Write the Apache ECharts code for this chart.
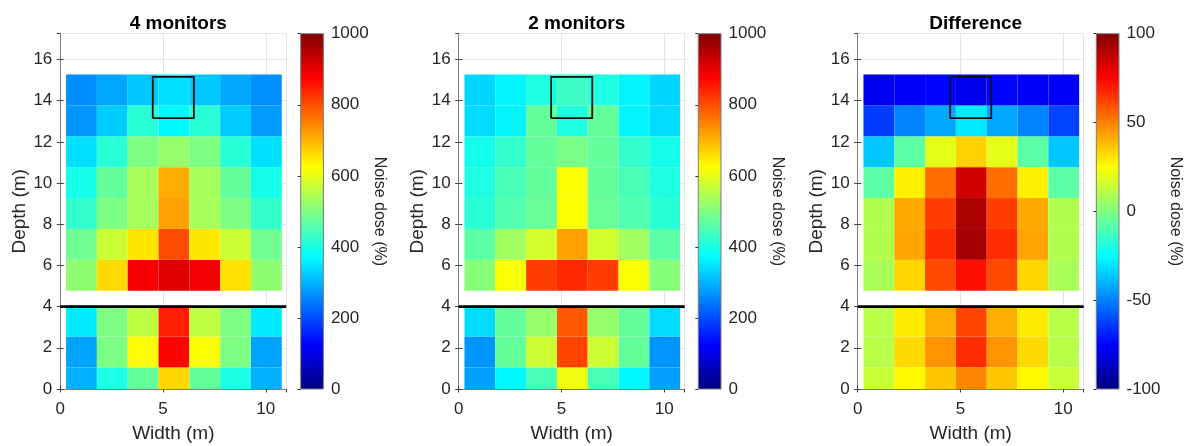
<!DOCTYPE html>
<html><head><meta charset="utf-8">
<script src="https://cdn.jsdelivr.net/npm/echarts@6/dist/echarts.min.js"></script>
<style>html,body{margin:0;padding:0;background:#fff}#c{width:1189px;height:446px}</style>
</head><body><div id="c"></div>
<script>
// ---------- data ----------
const xCenters = [1.03, 2.53, 4.03, 5.53, 7.03, 8.53, 10.03];          // Width (m)
const yCenters = [0.3, 1.8, 3.3, 5.52, 7.02, 8.52, 10.02, 11.52, 13.02, 14.52]; // Depth (m), bottom to top
const cellW = 1.5, cellH = 1.5;
// rows listed bottom (depth 0.3) to top (depth 14.5)
const dose4 = [
  [297, 400, 473, 665, 473, 400, 297],
  [285, 497, 622, 872, 620, 497, 285],
  [355, 497, 562, 845, 562, 497, 355],
  [515, 660, 885, 905, 885, 655, 515],
  [483, 575, 650, 802, 648, 575, 483],
  [425, 497, 537, 718, 537, 497, 425],
  [395, 473, 537, 708, 537, 473, 395],
  [345, 415, 497, 522, 497, 415, 345],
  [272, 325, 415, 370, 415, 325, 277],
  [263, 287, 320, 345, 320, 290, 265]
];
const dose2 = [
  [282, 370, 445, 610, 445, 370, 282],
  [272, 473, 575, 810, 575, 473, 272],
  [340, 473, 522, 787, 522, 473, 340],
  [507, 620, 815, 835, 815, 620, 507],
  [463, 532, 580, 718, 580, 532, 463],
  [415, 455, 478, 620, 478, 455, 415],
  [405, 445, 473, 620, 473, 445, 405],
  [395, 425, 473, 493, 473, 425, 395],
  [340, 365, 473, 405, 473, 365, 340],
  [335, 365, 405, 435, 405, 365, 335]
];
const doseDiff = [
  [14, 26, 36, 49, 36, 26, 14],
  [11, 32, 46, 66, 46, 32, 11],
  [11, 29, 41, 62, 41, 29, 11],
  [8, 33, 61, 72, 61, 33, 8],
  [10, 43, 66, 93, 66, 43, 10],
  [10, 42, 63, 92, 63, 42, 10],
  [-7, 28, 54, 84, 54, 28, -7],
  [-36, -7, 20, 34, 20, -7, -36],
  [-63, -49, -42, -29, -42, -49, -62],
  [-78, -76, -74, -78, -74, -76, -77]
];
const titles = ['4 monitors', '2 monitors', 'Difference'];
const cbRanges = [[0, 1000], [0, 1000], [-100, 100]];
const cbIntervals = [200, 200, 50];
const xRange = [0, 11], xInterval = 5;
const yRange = [0, 17.25], yInterval = 2;
const sepX = [0, 11], sepY = [4, 4];                 // thick separator at depth 4 m
const boxX = [4.5, 6.5, 6.5, 4.5, 4.5];              // monitor box
const boxY = [13.15, 13.15, 15.15, 15.15, 13.15];
const xName = 'Width (m)', yName = 'Depth (m)', cbName = 'Noise dose (%)';

// ---------- layout / style ----------
const jet = ['#000080', '#0000ff', '#0080ff', '#00ffff', '#80ff80', '#ffff00', '#ff8000', '#ff0000', '#800000'];
const panelLeft = [60.3, 458.7, 857.7];
const cbLeft = [300.7, 698.3, 1096.3];
const plotW = 226, plotTop = 33.7, plotH = 355.3, cbW = 22.7;
const FONT = 'Liberation Sans, Arial, Helvetica, sans-serif';
const TXT = '#262626', AX = '#7d7d7d';
const plain = v => String(v);

const grids = [], xAxes = [], yAxes = [], series = [], visualMaps = [], titleOpts = [];
const sets = [dose4, dose2, doseDiff];

function renderCell(params, api) {
  const x = api.value(0), y = api.value(1);
  const p0 = api.coord([x - cellW / 2, y + cellH / 2]);
  const p1 = api.coord([x + cellW / 2, y - cellH / 2]);
  const cs = params.coordSys;
  const r = echarts.graphic.clipRectByRect(
    { x: p0[0], y: p0[1], width: p1[0] - p0[0], height: p1[1] - p0[1] },
    { x: cs.x, y: cs.y, width: cs.width, height: cs.height });
  if (!r) return;
  return { type: 'rect', shape: r, style: { fill: api.visual('color'), stroke: null } };
}
function renderBar(params, api) {
  const p0 = api.coord([api.value(0), api.value(3)]);
  const p1 = api.coord([api.value(2), api.value(1)]);
  const stops = jet.map((c, i) => ({ offset: i / (jet.length - 1), color: c }));
  return {
    type: 'rect',
    shape: { x: p0[0], y: p0[1], width: p1[0] - p0[0], height: p1[1] - p0[1] },
    style: { fill: new echarts.graphic.LinearGradient(0, 1, 0, 0, stops), stroke: AX, lineWidth: 1 }
  };
}

for (let i = 0; i < 3; i++) {
  const g = grids.length;
  grids.push({ left: panelLeft[i], top: plotTop, width: plotW, height: plotH, containLabel: false, outerBoundsMode: 'none' });
  grids.push({ left: cbLeft[i], top: plotTop, width: cbW, height: plotH, containLabel: false, outerBoundsMode: 'none' });
  const xa = xAxes.length, ya = yAxes.length;
  xAxes.push({
    type: 'value', gridIndex: g, min: xRange[0], max: xRange[1], interval: xInterval, position: 'bottom',
    name: xName, nameLocation: 'middle', nameGap: 35, nameMoveOverlap: false,
    nameTextStyle: { fontFamily: FONT, fontSize: 19, color: TXT },
    axisLine: { show: true, lineStyle: { color: AX, width: 1 } },
    axisTick: { show: true, inside: true, length: 3.5, lineStyle: { color: '#404040' } },
    axisLabel: { fontFamily: FONT, fontSize: 17, color: TXT, margin: 12, showMaxLabel: false, formatter: plain },
    splitLine: { show: true, lineStyle: { color: '#e4e4e4', width: 1 } }
  });
  xAxes.push({
    type: 'value', gridIndex: g, min: xRange[0], max: xRange[1], interval: xInterval, position: 'top',
    axisLine: { show: true, lineStyle: { color: AX, width: 1 } },
    axisTick: { show: true, inside: true, length: 3.5, lineStyle: { color: '#404040' } },
    axisLabel: { show: false }, splitLine: { show: false }
  });
  yAxes.push({
    type: 'value', gridIndex: g, min: yRange[0], max: yRange[1], interval: yInterval, position: 'left',
    name: yName, nameLocation: 'middle', nameGap: 31, nameRotate: 90, nameMoveOverlap: false,
    nameTextStyle: { fontFamily: FONT, fontSize: 19, color: TXT },
    axisLine: { show: true, lineStyle: { color: AX, width: 1 } },
    axisTick: { show: true, inside: true, length: 3.5, lineStyle: { color: '#404040' } },
    axisLabel: { fontFamily: FONT, fontSize: 17, color: TXT, margin: 8, showMaxLabel: false, formatter: plain },
    splitLine: { show: true, lineStyle: { color: '#e4e4e4', width: 1 } }
  });
  yAxes.push({
    type: 'value', gridIndex: g, min: yRange[0], max: yRange[1], interval: yInterval, position: 'right',
    axisLine: { show: true, lineStyle: { color: AX, width: 1 } },
    axisTick: { show: true, inside: true, length: 3.5, lineStyle: { color: '#404040' } },
    axisLabel: { show: false }, splitLine: { show: false }
  });
  const cxa = xAxes.length, cya = yAxes.length;
  xAxes.push({ type: 'value', gridIndex: g + 1, min: 0, max: 1, show: false });
  yAxes.push({
    type: 'value', gridIndex: g + 1, min: cbRanges[i][0], max: cbRanges[i][1], interval: cbIntervals[i],
    position: 'right', z: 5,
    name: cbName, nameLocation: 'middle', nameGap: 48, nameRotate: -90, nameMoveOverlap: false,
    nameTextStyle: { fontFamily: FONT, fontSize: 16, color: TXT },
    axisLine: { show: false },
    axisTick: { show: true, inside: true, length: 3, lineStyle: { color: '#333' } },
    axisLabel: { fontFamily: FONT, fontSize: 17, color: TXT, margin: 7.5, formatter: plain },
    splitLine: { show: false }
  });

  const cells = [];
  sets[i].forEach((row, r) => row.forEach((v, c) => cells.push([xCenters[c], yCenters[r], v])));
  const sIdx = series.length;
  series.push({
    type: 'custom', xAxisIndex: xa, yAxisIndex: ya, renderItem: renderCell,
    data: cells, encode: { x: 0, y: 1 }, z: 2, silent: true
  });
  visualMaps.push({
    type: 'continuous', show: false, seriesIndex: sIdx, dimension: 2,
    min: cbRanges[i][0], max: cbRanges[i][1], inRange: { color: jet }
  });
  series.push({
    type: 'line', xAxisIndex: xa, yAxisIndex: ya, z: 4, silent: true,
    data: sepX.map((x, k) => [x, sepY[k]]), symbol: 'none',
    lineStyle: { color: '#000', width: 2.6 }
  });
  series.push({
    type: 'line', xAxisIndex: xa, yAxisIndex: ya, z: 4, silent: true,
    data: boxX.map((x, k) => [x, boxY[k]]), symbol: 'none',
    lineStyle: { color: '#111', width: 1.8, join: 'miter' }
  });
  series.push({
    type: 'custom', xAxisIndex: cxa, yAxisIndex: cya, renderItem: renderBar, silent: true,
    data: [[0, cbRanges[i][0], 1, cbRanges[i][1]]], encode: { x: [0, 2], y: [1, 3] }, z: 2
  });
  titleOpts.push({
    text: titles[i], left: panelLeft[i] + plotW / 2, top: 9, textAlign: 'center',
    textStyle: { fontFamily: FONT, fontSize: 19, fontWeight: 'bold', color: '#000' }
  });
}

const chart = echarts.init(document.getElementById('c'), null, { renderer: 'canvas' });
chart.setOption({
  animation: false, backgroundColor: '#fff',
  title: titleOpts, grid: grids, xAxis: xAxes, yAxis: yAxes, visualMap: visualMaps, series: series
});
</script></body></html>
